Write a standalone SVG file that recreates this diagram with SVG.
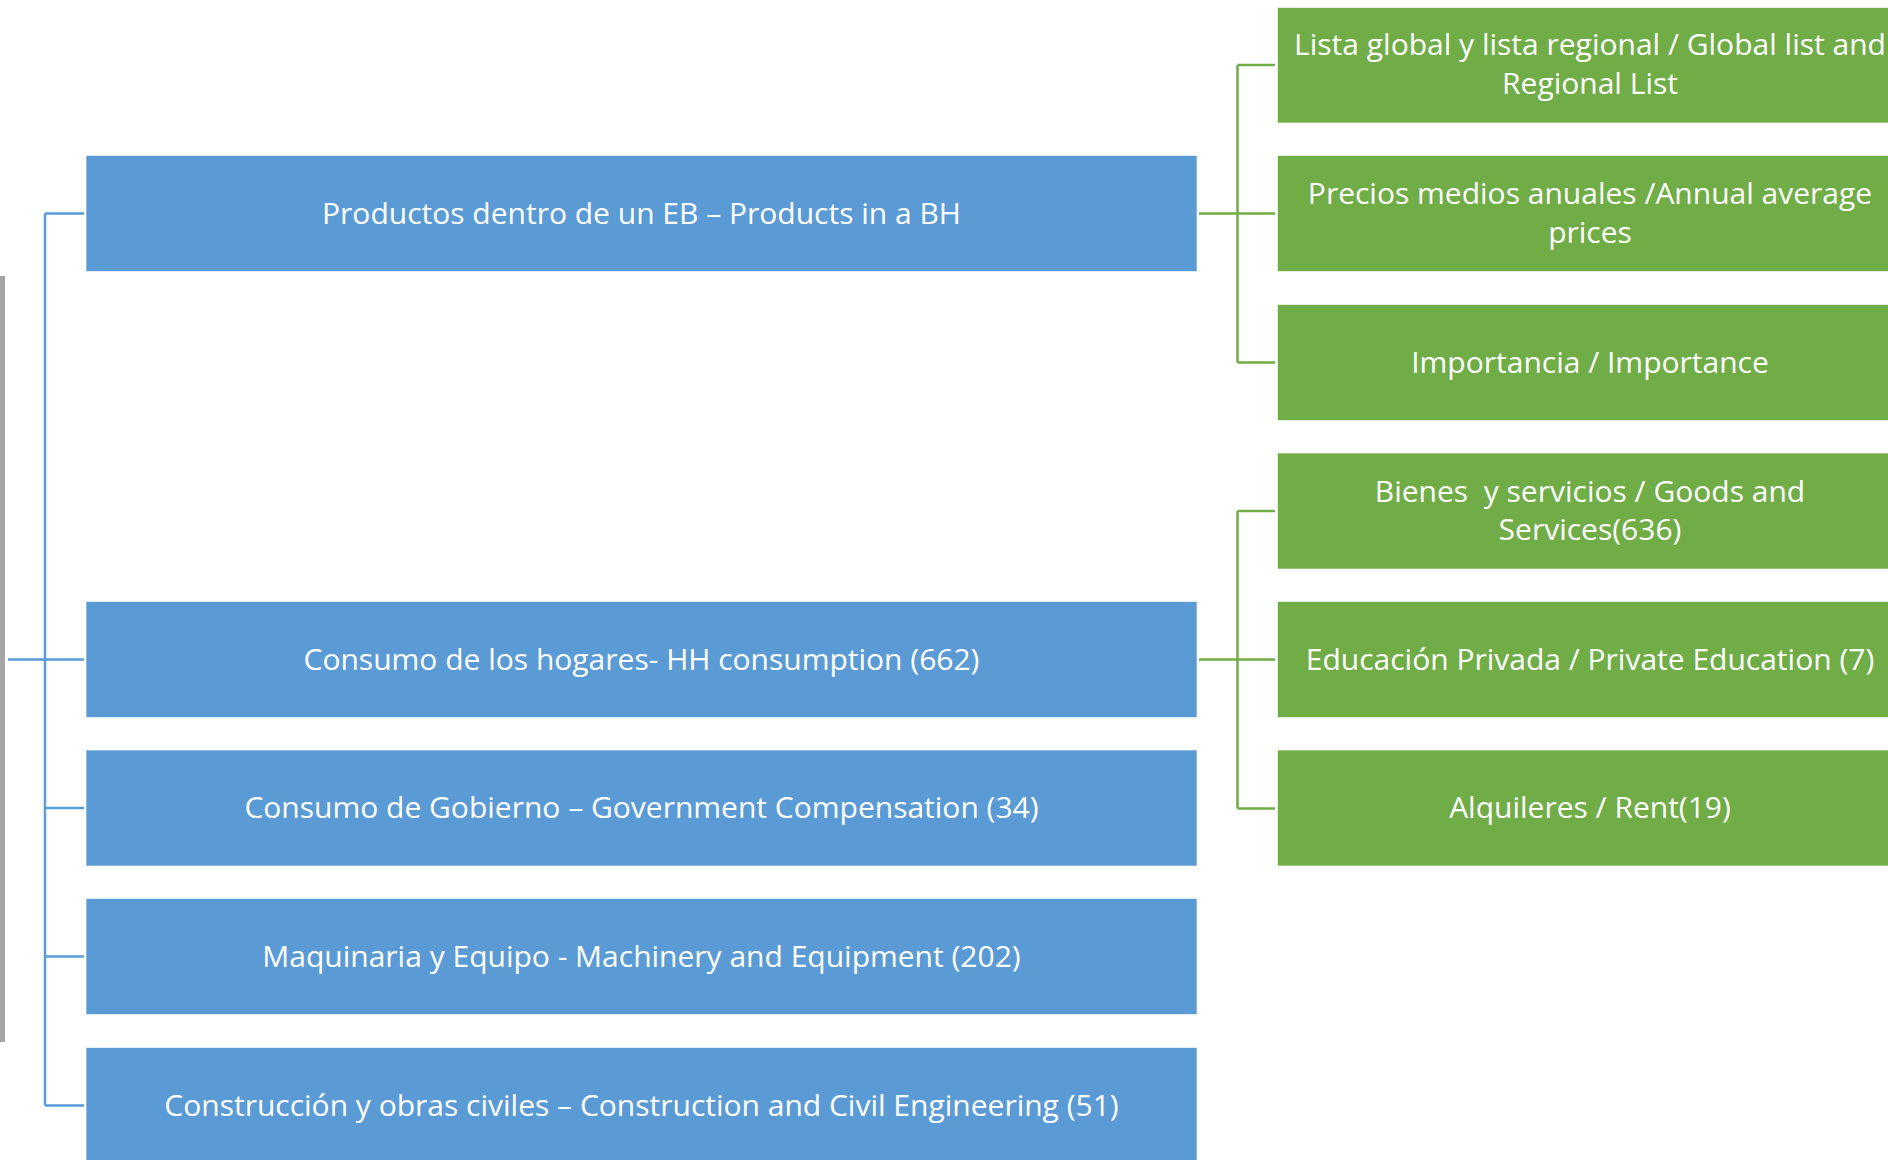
<svg xmlns="http://www.w3.org/2000/svg" width="1888" height="1160" viewBox="0 0 1888 1160">
<style>
.blue{fill:#5B9BD5;stroke:#FFFFFF;stroke-width:1;stroke-opacity:0.6}
.green{fill:#70AD47;stroke:#FFFFFF;stroke-width:1;stroke-opacity:0.6}
.t{font-family:"Open Sans","Liberation Sans",sans-serif;font-size:30px;fill:#FFFFFF;text-anchor:middle;dominant-baseline:central}
.cb{stroke:#5B9BD5;stroke-width:2.5;fill:none}
.cg{stroke:#70AD47;stroke-width:2.5;fill:none}
</style>
<rect width="1888" height="1160" fill="#FFFFFF"/>
<rect x="0" y="276" width="5" height="766" fill="#A5A5A5"/>
<g id="connectors">
<path class="cb" d="M45 213.5V1105.5M45 213.5H84M45 659.5H84M45 808H84M45 956.5H84M45 1105.5H84M8 659.5H45"/>
<path class="cg" d="M1237.5 65V362.5M1237.5 511V808.5M1237.5 65H1275M1237.5 213.5H1275M1237.5 362.5H1275M1237.5 511H1275M1237.5 659.5H1275M1237.5 808.5H1275M1199 213.5H1237.5M1199 659.5H1237.5"/>
</g>
<g id="b1"><rect class="blue" x="86" y="155.5" width="1111" height="116"/><text class="t" x="641.5" y="212">Productos dentro de un EB – Products in a BH</text></g>
<g id="b2"><rect class="blue" x="86" y="601.5" width="1111" height="116"/><text class="t" x="641.5" y="658">Consumo de los hogares- HH consumption (662)</text></g>
<g id="b3"><rect class="blue" x="86" y="750" width="1111" height="116"/><text class="t" x="641.5" y="806.5">Consumo de Gobierno – Government Compensation (34)</text></g>
<g id="b4"><rect class="blue" x="86" y="898.5" width="1111" height="116"/><text class="t" x="641.5" y="955">Maquinaria y Equipo - Machinery and Equipment (202)</text></g>
<g id="b5"><rect class="blue" x="86" y="1047.5" width="1111" height="116"/><text class="t" x="641.5" y="1104">Construcción y obras civiles – Construction and Civil Engineering (51)</text></g>
<g id="g1"><rect class="green" x="1277.5" y="7.5" width="626" height="115.5"/><text class="t" x="1590" y="43.5">Lista global y lista regional / Global list and</text><text class="t" x="1590" y="82">Regional List</text></g>
<g id="g2"><rect class="green" x="1277.5" y="155.5" width="626" height="116"/><text class="t" x="1590" y="192.5">Precios medios anuales /Annual average</text><text class="t" x="1590" y="231">prices</text></g>
<g id="g3"><rect class="green" x="1277.5" y="304.5" width="626" height="116"/><text class="t" x="1590" y="361">Importancia / Importance</text></g>
<g id="g4"><rect class="green" x="1277.5" y="453" width="626" height="116"/><text class="t" x="1590" y="490" xml:space="preserve">Bienes  y servicios / Goods and</text><text class="t" x="1590" y="528.5">Services(636)</text></g>
<g id="g5"><rect class="green" x="1277.5" y="601.5" width="626" height="116"/><text class="t" x="1590" y="658">Educación Privada / Private Education (7)</text></g>
<g id="g6"><rect class="green" x="1277.5" y="750" width="626" height="116"/><text class="t" x="1590" y="806.5">Alquileres / Rent(19)</text></g>
</svg>
